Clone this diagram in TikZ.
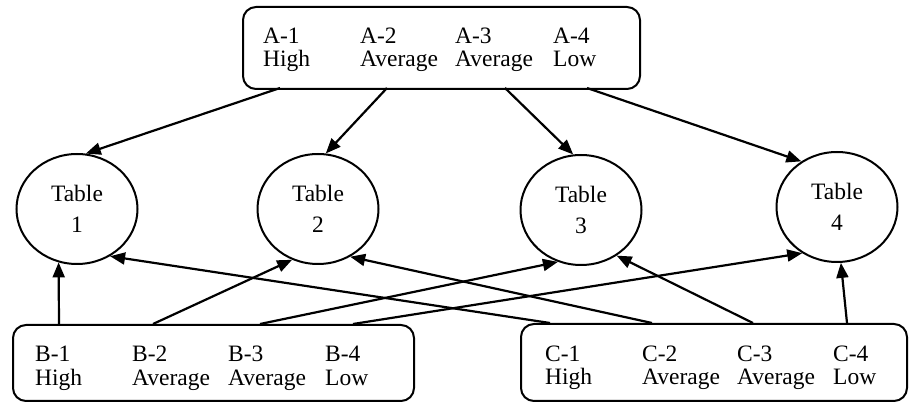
\documentclass[tikz,border=0pt]{standalone}
\usepackage{fontspec}
\setmainfont{Liberation Serif}
\usetikzlibrary{arrows.meta,shapes.geometric}
\begin{document}
\begin{tikzpicture}[x=1pt,y=-1pt,
  box/.style={draw, line width=2pt, rounded corners=13pt, inner sep=0pt, anchor=north west},
  tbl/.style={draw, ellipse, line width=2pt, minimum width=121pt, minimum height=110pt, inner sep=0pt, align=center, font=\fontsize{23.5}{31}\selectfont},
  lbl/.style={anchor=base west, inner sep=0pt, font=\fontsize{23.5}{27}\selectfont},
  arr/.style={line width=2.2pt, -{Triangle[length=15pt,width=12pt]}}]
\useasboundingbox (0,0) rectangle (911,403);

% boxes
\node[box, minimum width=397pt, minimum height=82pt] (A) at (242,6) {};
\node[box, minimum width=401pt, minimum height=76pt] (B) at (12,324) {};
\node[box, minimum width=386pt, minimum height=77pt] (C) at (520,323) {};

% labels
\foreach \x/\a/\b [count=\i] in {263/A-1/High, 360/A-2/Average, 455/A-3/Average, 553/A-4/Low} {
  \node[lbl] (A\i t) at (\x,44) {\a};
  \node[lbl] (A\i b) at (\x,67) {\b};
}
\foreach \x/\a/\b [count=\i] in {35/B-1/High, 132/B-2/Average, 228/B-3/Average, 325/B-4/Low} {
  \node[lbl] (B\i t) at (\x,362) {\a};
  \node[lbl] (B\i b) at (\x,386) {\b};
}
\foreach \x/\a/\b [count=\i] in {545/C-1/High, 642/C-2/Average, 737/C-3/Average, 833/C-4/Low} {
  \node[lbl] (C\i t) at (\x,362) {\a};
  \node[lbl] (C\i b) at (\x,385) {\b};
}

% tables
\node[tbl] (T1) at (77,209) {Table\\1};
\node[tbl] (T2) at (318,209) {Table\\2};
\node[tbl] (T3) at (581,210) {Table\\3};
\node[tbl] (T4) at (837,207) {Table\\4};

% start points
\coordinate (a1) at (280,88);
\coordinate (a2) at (387,88);
\coordinate (a3) at (505,88);
\coordinate (a4) at (587,88);
\coordinate (b1) at (59,324);
\coordinate (b2) at (153,324);
\coordinate (b3) at (260,324);
\coordinate (b4) at (353,324);
\coordinate (c1) at (550,323);
\coordinate (c2) at (652,323);
\coordinate (c3) at (753,323);
\coordinate (c4) at (847,323);

% arrows
\draw[arr] (a1) -- (T1.81);
\draw[arr] (a2) -- (T2.82);
\draw[arr] (a3) -- (T3.98);
\draw[arr] (a4) -- (T4.128);
\draw[arr] (b1) -- (T1.251);
\draw[arr] (b2) -- (T2.243);
\draw[arr] (b3) -- (T3.246);
\draw[arr] (b4) -- (T4.233);
\draw[arr] (c1) -- (T1.305);
\draw[arr] (c2) -- (T2.304);
\draw[arr] (c3) -- (T3.308);
\draw[arr] (c4) -- (T4.274);
\end{tikzpicture}
\end{document}
